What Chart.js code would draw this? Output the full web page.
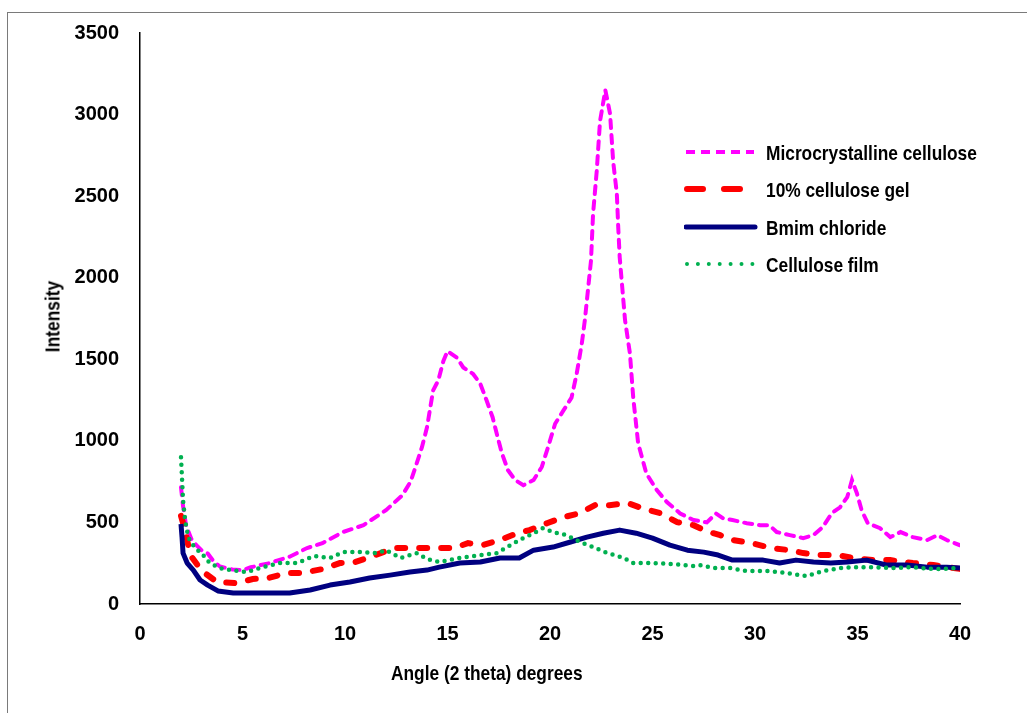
<!DOCTYPE html>
<html>
<head>
<meta charset="utf-8">
<script src="https://cdn.jsdelivr.net/npm/chart.js@4"></script>
<style>
  body { margin: 0; background: #fff; }
  #wrap { position: relative; width: 1027px; height: 713px; overflow: hidden; }
  #frame { position: absolute; left: 7px; top: 12px; width: 1100px; height: 800px;
           border-top: 1px solid #7a7a7a; border-left: 1px solid #7a7a7a; }
  canvas { position: absolute; left: 0; top: 0; }
  .txt { position: absolute; font-family: "Liberation Sans", Arial, sans-serif;
         font-weight: bold; font-size: 21px; color: #000; white-space: nowrap; line-height: 1;
         transform-origin: 0 50%; transform: scaleX(0.825); }
  #yTitle { transform-origin: 50% 50%; transform: rotate(-90deg) scaleX(0.825); width: 100px; text-align: center; }
  .row { position: absolute; left: 684px; height: 24px; }
  .row svg { position: absolute; left: 0; top: 6px; }
  .row span { position: absolute; left: 82px; top: 2px; }
</style>
</head>
<body>
<div id="wrap">
  <div id="frame"></div>
  <canvas id="xrd" width="1027" height="713"></canvas>
  <div class="txt" id="xTitle" style="left:391px; top:662px;">Angle (2 theta) degrees</div>
  <div class="txt" id="yTitle" style="left:2px; top:306px;">Intensity</div>
  <div id="legend"></div>
</div>
<script>
// series names
const seriesNames = ['Microcrystalline cellulose', '10% cellulose gel', 'Bmim chloride', 'Cellulose film'];

// Microcrystalline cellulose
const microAngle = [2.0, 2.1, 2.25, 2.5, 2.75, 3.0, 3.3, 3.6, 3.9, 4.5, 5.0, 5.4, 6.3, 7.3, 8.15, 8.9, 9.9, 10.9,
  12.0, 12.8, 13.2, 13.5, 13.75, 14.0, 14.3, 14.55, 14.8, 15.0, 15.45, 15.77, 16.25, 16.6, 16.9, 17.2, 17.4,
  17.65, 17.95, 18.3, 18.7, 19.2, 19.6, 19.9, 20.25, 20.65, 21.05, 21.3, 21.55, 21.7, 22.0, 22.1, 22.28, 22.44,
  22.7, 22.93, 23.08, 23.26, 23.33, 23.4, 23.66, 23.9, 24.06, 24.3, 24.7, 25.2, 25.7, 26.35, 27.0, 27.65, 28.1,
  28.45, 28.9, 29.6, 30.24, 30.7, 31.06, 31.7, 32.35, 32.85, 33.3, 33.75, 34.15, 34.5, 34.73, 34.97, 35.2, 35.5,
  36.1, 36.6, 37.1, 37.7, 38.4, 38.9, 39.35, 40.0];
const microIntensity = [715, 600, 480, 400, 360, 330, 310, 260, 230, 212, 208, 225, 250, 290, 343, 373, 441, 483,
  575, 667, 750, 863, 960, 1083, 1310, 1370, 1490, 1550, 1510, 1450, 1410, 1350, 1250, 1145, 1045,
  925, 820, 760, 728, 760, 840, 960, 1105, 1185, 1265, 1410, 1595, 1740, 2105, 2390, 2655, 2960,
  3150, 3005, 2715, 2515, 2305, 2125, 1740, 1535, 1265, 985, 800, 700, 625, 555, 515, 500, 555,
  525, 515, 495, 483, 483, 441, 422, 404, 422, 471, 557, 593, 655, 760, 679, 575, 495,
  465, 410, 441, 410, 392, 422, 392, 360];

// 10% cellulose gel
const gelAngle = [2.0, 2.2, 2.45, 3.0, 3.75, 4.7, 5.5, 6.25, 7.15, 7.9, 8.9, 9.75, 10.5, 11.1, 12.4, 13.5, 14.3,
  15.3, 16.0, 16.7, 17.56, 18.4, 19.0, 19.85, 20.65, 21.46, 22.2, 22.9, 23.8, 24.5, 25.37, 26.2, 27.0, 27.65,
  28.3, 28.9, 29.85, 30.8, 31.7, 32.35, 33.2, 34.0, 34.8, 35.76, 36.6, 37.7, 38.7, 39.7, 40.0];
const gelIntensity = [540, 453, 300, 205, 135, 128, 153, 159, 190, 190, 214, 251, 257, 282, 343, 343, 343,
  343, 373, 361, 392, 434, 453, 495, 532, 557, 606, 606, 618, 587, 557, 502, 483, 445,
  422, 392, 373, 343, 330, 312, 300, 300, 282, 269, 269, 251, 239, 220, 215];

// Bmim chloride
const bmimAngle = [2.0, 2.05, 2.1, 2.3, 2.6, 2.93, 3.3, 3.8, 4.55, 5.37, 6.3, 7.3, 8.3, 9.27, 10.24, 11.2, 12.2,
  13.17, 14.0, 14.6, 15.6, 16.6, 17.56, 18.5, 19.2, 20.15, 21.0, 21.8, 22.6, 23.4, 24.2, 25.0, 25.85, 26.7,
  27.5, 28.2, 28.9, 29.6, 30.4, 31.2, 32.0, 32.85, 33.7, 34.5, 35.45, 36.4, 37.4, 38.4, 39.35, 40.0];
const bmimIntensity = [490, 410, 312, 251, 208, 147, 116, 80, 67, 67, 67, 67, 86, 116, 135, 159, 177,
  196, 208, 226, 251, 257, 282, 282, 330, 349, 380, 410, 434, 453, 434, 404, 361, 330,
  318, 300, 269, 269, 269, 251, 269, 257, 251, 257, 269, 239, 239, 226, 226, 220];

// Cellulose film
const filmAngle = [2.0, 2.05, 2.1, 2.2, 2.35, 2.68, 3.0, 3.4, 3.9, 4.4, 5.2, 6.0, 6.8, 7.65, 8.5, 9.27, 9.9,
  10.73, 11.55, 12.0, 12.7, 13.5, 14.0, 14.6, 15.6, 16.6, 17.4, 17.9, 18.5, 19.2, 19.66, 20.15, 20.8, 21.46,
  22.1, 22.8, 23.6, 24.05, 25.0, 26.0, 27.0, 27.3, 28.0, 28.8, 29.6, 30.6, 31.55, 32.5, 33.3, 34.15, 34.97,
  35.76, 36.7, 37.7, 38.7, 40.0];
const filmIntensity = [900, 770, 636, 514, 410, 343, 312, 251, 220, 208, 196, 226, 251, 251, 294, 282, 318,
  318, 312, 330, 282, 312, 275, 257, 282, 300, 312, 349, 392, 434, 465, 441, 422, 380,
  349, 312, 282, 251, 251, 245, 233, 239, 220, 220, 202, 202, 190, 171, 202, 220, 226,
  226, 220, 226, 214, 220];

const xTicks = [0, 5, 10, 15, 20, 25, 30, 35, 40];
const yTicks = [0, 500, 1000, 1500, 2000, 2500, 3000, 3500];

const colors = ['#ff00ff', '#ff0000', '#000080', '#00b050'];

function pts(xs, ys) {
  return xs.map((x, i) => ({ x: x, y: ys[i] }));
}

const tickFont = { family: "'Liberation Sans', Arial, sans-serif", size: 20, weight: 'bold' };

new Chart(document.getElementById('xrd'), {
  type: 'line',
  data: {
    datasets: [
      { label: seriesNames[0], data: pts(microAngle, microIntensity), borderColor: colors[0],
        borderWidth: 4, borderDash: [8, 7], borderCapStyle: 'round', order: 4 },
      { label: seriesNames[1], data: pts(gelAngle, gelIntensity), borderColor: colors[1],
        borderWidth: 6, borderDash: [8, 14], borderCapStyle: 'round', order: 3 },
      { label: seriesNames[2], data: pts(bmimAngle, bmimIntensity), borderColor: colors[2],
        borderWidth: 5, borderJoinStyle: 'round', order: 2 },
      { label: seriesNames[3], data: pts(filmAngle, filmIntensity), borderColor: colors[3],
        borderWidth: 4.5, borderDash: [0, 7.5], borderCapStyle: 'round', order: 1 }
    ]
  },
  options: {
    responsive: false,
    animation: false,
    events: [],
    elements: { point: { radius: 0 }, line: { tension: 0, fill: false } },
    layout: { padding: { left: 0, top: 32, right: 67, bottom: 24 } },
    plugins: { legend: { display: false }, tooltip: { enabled: false } },
    scales: {
      x: {
        type: 'linear', min: 0, max: 40,
        afterFit: s => { s.height = 85; },
        afterBuildTicks: s => { s.ticks = xTicks.map(v => ({ value: v })); },
        grid: { display: false, drawTicks: false },
        border: { display: true, color: '#000', width: 1.5 },
        ticks: { color: '#000', font: tickFont, padding: 18, maxRotation: 0, callback: v => String(v) }
      },
      y: {
        min: 0, max: 3500,
        afterFit: s => { s.width = 140; },
        afterBuildTicks: s => { s.ticks = yTicks.map(v => ({ value: v })); },
        grid: { display: false, drawTicks: false },
        border: { display: true, color: '#000', width: 1.5 },
        ticks: { color: '#000', font: tickFont, padding: 21, callback: v => String(v) }
      }
    }
  }
});

// legend drawn as html next to the plot
const legendSamples = [
  '<line x1="2" y1="6" x2="70" y2="6" stroke="#ff00ff" stroke-width="4" stroke-dasharray="9 6"/>',
  '<line x1="3" y1="6" x2="70" y2="6" stroke="#ff0000" stroke-width="6" stroke-linecap="round" stroke-dasharray="16 21"/>',
  '<line x1="2" y1="6" x2="71" y2="6" stroke="#000080" stroke-width="5" stroke-linecap="round"/>',
  '<line x1="3" y1="6" x2="71" y2="6" stroke="#00b050" stroke-width="4" stroke-linecap="round" stroke-dasharray="0 10.9"/>'
];
const legendY = [140, 177, 215, 252];
const legend = document.getElementById('legend');
seriesNames.forEach((name, i) => {
  const row = document.createElement('div');
  row.className = 'row';
  row.style.top = legendY[i] + 'px';
  row.innerHTML = '<svg width="74" height="12">' + legendSamples[i] + '</svg><span class="txt">' + name + '</span>';
  legend.appendChild(row);
});
</script>
</body>
</html>
